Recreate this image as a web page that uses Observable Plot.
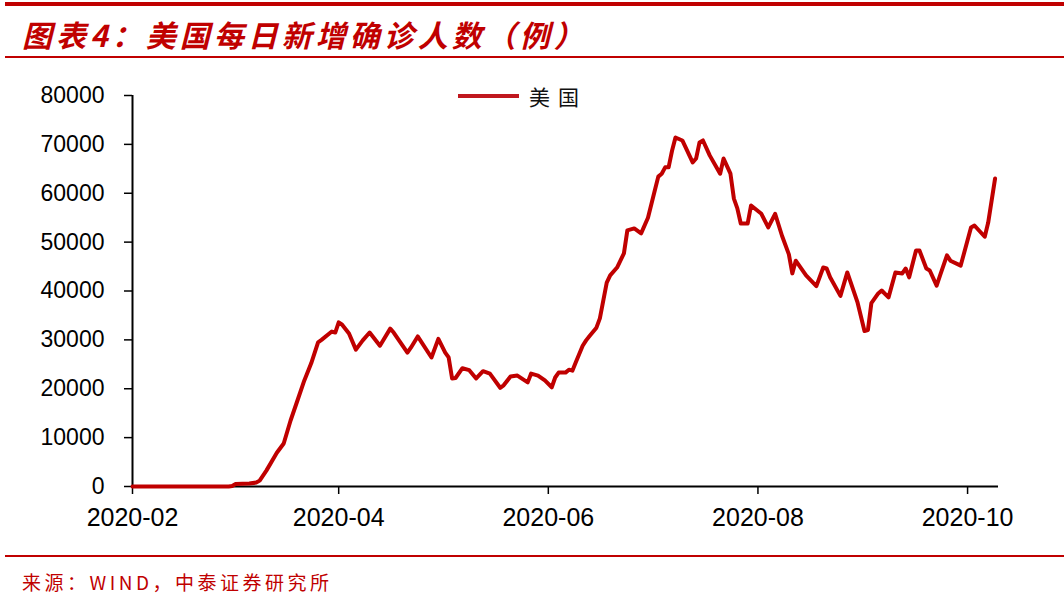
<!DOCTYPE html>
<html>
<head>
<meta charset="utf-8">
<script src="https://cdn.jsdelivr.net/npm/d3@7"></script>
<script src="https://cdn.jsdelivr.net/npm/@observablehq/plot@0.6"></script>
<style>
  html, body { margin: 0; padding: 0; background: #fff; }
  #page { position: relative; width: 1064px; height: 598px; overflow: hidden; background: #fff; }
  .bar { position: absolute; left: 5px; right: 0; background: #C00000; }
  #title { position: absolute; left: 22px; top: 12px; font-family: "Noto Sans CJK SC", sans-serif; font-weight: bold; font-style: italic; font-size: 30px; color: #C00000; letter-spacing: 4px; white-space: nowrap; }
  #footer { position: absolute; left: 22px; top: 568px; font-family: "Noto Sans CJK SC", sans-serif; font-size: 19px; color: #C00000; letter-spacing: 3.5px; white-space: nowrap; }
  #chart { position: absolute; left: 0; top: 60px; }
  #legend { position: absolute; left: 458px; top: 81px; display: flex; align-items: center; font-family: "Noto Sans CJK SC", sans-serif; font-size: 21px; color: #111; letter-spacing: 8px; }
  #legend .sw { width: 61px; height: 4px; background: #C0171E; margin-right: 10px; }
</style>
</head>
<body>
<div id="page">
  <div class="bar" style="top:2px;height:4px;"></div>
  <div id="title">图表4：美国每日新增确诊人数（例）</div>
  <div class="bar" style="top:56px;height:2px;"></div>
  <div id="chart"></div>
  <div id="legend"><div class="sw"></div><span>美国</span></div>
  <div class="bar" style="top:555px;height:2px;"></div>
  <div id="footer">来源：WIND，中泰证券研究所</div>
</div>
<script>
const seriesName = "美国";
const dates = [
  "2020-02-01","2020-02-15","2020-02-29","2020-03-01","2020-03-02","2020-03-06","2020-03-08","2020-03-09",
  "2020-03-11","2020-03-14","2020-03-16","2020-03-18","2020-03-20","2020-03-22","2020-03-24","2020-03-26",
  "2020-03-27","2020-03-30","2020-03-31","2020-04-01","2020-04-02","2020-04-04","2020-04-06","2020-04-08",
  "2020-04-10","2020-04-13","2020-04-16","2020-04-17","2020-04-21","2020-04-22","2020-04-24","2020-04-28",
  "2020-04-30","2020-05-02","2020-05-03","2020-05-04","2020-05-05","2020-05-07","2020-05-09","2020-05-11",
  "2020-05-13","2020-05-15","2020-05-18","2020-05-19","2020-05-21","2020-05-23","2020-05-26","2020-05-27",
  "2020-05-29","2020-05-31","2020-06-02","2020-06-03","2020-06-04","2020-06-06","2020-06-07","2020-06-08",
  "2020-06-09","2020-06-11","2020-06-12","2020-06-13","2020-06-15","2020-06-16","2020-06-18","2020-06-19",
  "2020-06-21","2020-06-23","2020-06-24","2020-06-26","2020-06-28","2020-06-30","2020-07-02","2020-07-03",
  "2020-07-04","2020-07-05","2020-07-06","2020-07-07","2020-07-08","2020-07-10","2020-07-13","2020-07-14",
  "2020-07-15","2020-07-16","2020-07-18","2020-07-21","2020-07-22","2020-07-24","2020-07-25","2020-07-26",
  "2020-07-27","2020-07-29","2020-07-30","2020-08-02","2020-08-04","2020-08-06","2020-08-08","2020-08-10",
  "2020-08-11","2020-08-12","2020-08-15","2020-08-18","2020-08-20","2020-08-21","2020-08-22","2020-08-25",
  "2020-08-27","2020-08-30","2020-09-01","2020-09-02","2020-09-03","2020-09-05","2020-09-06","2020-09-08",
  "2020-09-10","2020-09-12","2020-09-13","2020-09-14","2020-09-16","2020-09-17","2020-09-19","2020-09-20",
  "2020-09-22","2020-09-23","2020-09-25","2020-09-26","2020-09-29","2020-10-02","2020-10-03","2020-10-06",
  "2020-10-07","2020-10-08","2020-10-09"
];
const cases = [
  0,0,0,100,500,600,800,1200,
  3300,6900,8800,13500,17600,21700,25200,29500,
  30000,31700,31500,33600,33100,31300,28000,29900,
  31500,28800,32300,31500,27400,28400,30700,26400,
  30200,27400,26400,22100,22200,24200,23800,22100,
  23600,23100,20200,20700,22500,22700,21300,23100,
  22700,21700,20300,22300,23300,23300,23900,23700,
  25400,28800,29900,30800,32500,34400,41700,43200,
  44800,47700,52400,52800,51800,55000,60600,63400,
  64000,65300,65300,68700,71400,70800,66300,67100,
  70400,70800,67700,64000,67100,64000,58900,56900,
  53800,53800,57500,55800,53000,55800,51300,47500,
  43600,46200,43200,41000,44800,44600,42800,39000,
  43800,37600,31800,32000,37500,39500,40100,38700,
  43800,43600,44600,42800,48300,48300,44600,44200,
  41100,43200,47300,46200,45200,53000,53400,51100,
  54000,58500,63000
];
const yTicks = [0,10000,20000,30000,40000,50000,60000,70000,80000];
const xTickLabels = ["2020-02","2020-04","2020-06","2020-08","2020-10"];

const parse = d3.utcParse("%Y-%m-%d");
const data = dates.map((d, i) => ({date: parse(d), value: cases[i], series: seriesName}));
const xTicks = xTickLabels.map(s => parse(s + "-01"));

const chart = Plot.plot({
  width: 1064,
  height: 490,
  marginTop: 35,
  marginBottom: 64,
  marginLeft: 132,
  marginRight: 66,
  style: {fontFamily: "'Liberation Sans', Arial, sans-serif", background: "transparent", color: "#000"},
  x: {type: "utc", domain: [parse("2020-02-01"), parse("2020-10-10")]},
  y: {domain: [0, 80000]},
  marks: [
    Plot.axisY({ticks: yTicks, tickSize: 8, tickPadding: 20, fontSize: 23, tickFormat: d => String(d), label: null, strokeWidth: 1.5}),
    Plot.axisX({ticks: xTicks, tickSize: 8, tickPadding: 14, fontSize: 25, tickFormat: d3.utcFormat("%Y-%m"), label: null, strokeWidth: 1.5}),
    Plot.ruleX([parse("2020-02-01")], {stroke: "#000", strokeWidth: 2}),
    Plot.ruleY([0], {stroke: "#000", strokeWidth: 2}),
    Plot.line(data, {x: "date", y: "value", stroke: "#C00000", strokeWidth: 4, strokeLinejoin: "round", strokeLinecap: "round"})
  ]
});
document.getElementById("chart").appendChild(chart);
</script>
</body>
</html>
